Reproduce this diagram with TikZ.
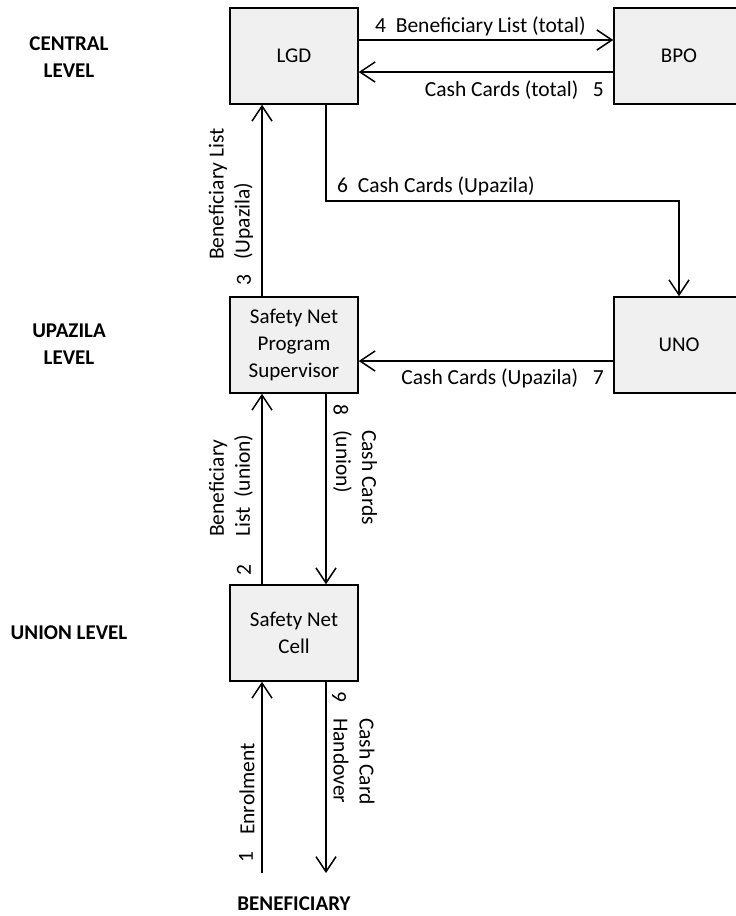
\documentclass[tikz,border=0pt]{standalone}
\usepackage{fontspec}
\setmainfont{Carlito}
\usetikzlibrary{arrows.meta,positioning}

\begin{document}
\begin{tikzpicture}[x=1pt, y=1pt,
    box/.style={draw, line width=1.5pt, fill=black!6, minimum width=128pt, minimum height=96pt, align=center, font=\fontsize{21}{27}\selectfont},
    level/.style={align=center, font=\fontsize{21}{27}\selectfont\bfseries},
    lbl/.style={inner sep=0pt, align=left, font=\fontsize{21.5}{26}\selectfont},
    flow/.style={-{Straight Barb[length=15pt, width=20pt]}, line width=1.5pt}
]
\clip (0,0) rectangle (736,-916);

% Central level
\node[box] (lgd) at (294, -56) {LGD};
\node[box, minimum width=130pt] (bpo) at (679, -56) {BPO};

% Upazila level
\node[box] (snps) at (294, -345) {Safety Net\\Program\\Supervisor};
\node[box, minimum width=130pt] (uno) at (679, -345) {UNO};

% Union level
\node[box] (cell) at (294, -633) {Safety Net\\Cell};

% Beneficiary
\node[level, inner sep=0pt] (benef) at (294, -904) {BENEFICIARY};
\coordinate (benin) at (262, -873);
\coordinate (benout) at (326, -873);

% Level labels
\node[level] (central) at (69, -57) {CENTRAL\\LEVEL};
\node[level] (upazila) at (69, -344) {UPAZILA\\LEVEL};
\node[level] (union) at (69, -633) {UNION LEVEL};

% Flows
\draw[flow] (benin) -- ([xshift=-32pt]cell.south);
\draw[flow] ([xshift=-32pt]cell.north) -- ([xshift=-32pt]snps.south);
\draw[flow] ([xshift=-32pt]snps.north) -- ([xshift=-32pt]lgd.south);
\draw[flow] ([yshift=16pt]lgd.east) -- ([yshift=16pt]bpo.west);
\draw[flow] ([yshift=-16pt]bpo.west) -- ([yshift=-16pt]lgd.east);
\draw[flow] ([xshift=32pt]lgd.south) -- ++(0,-96) -| (uno.north);
\draw[flow] ([yshift=-16pt]uno.west) -- ([yshift=-16pt]snps.east);
\draw[flow] ([xshift=32pt]snps.south) -- ([xshift=32pt]cell.north);
\draw[flow] ([xshift=32pt]cell.south) -- (benout);

% Flow labels
\node[lbl, rotate=90, anchor=west] (l1) at (247, -835) {Enrolment};
\node[lbl, rotate=90] (n1) at (246, -857) {1};
\node[lbl, rotate=90, anchor=west] (l2) at (231, -537) {Beneficiary\\List\ \ (union)};
\node[lbl, rotate=90] (n2) at (244, -570) {2};
\node[lbl, rotate=90, anchor=west] (l3) at (231, -260) {Beneficiary List\\(Upazila)};
\node[lbl, rotate=90] (n3) at (244, -280) {3};
\node[lbl, anchor=west] (l4) at (375, -26) {4\ \ Beneficiary List (total)};
\node[lbl, anchor=east] (l5) at (604, -90) {Cash Cards (total)\ \ \ 5};
\node[lbl, anchor=west] (l6) at (337, -186) {6\ \ Cash Cards (Upazila)};
\node[lbl, anchor=east] (l7) at (604, -378) {Cash Cards (Upazila)\ \ \ 7};
\node[lbl, rotate=-90, anchor=west] (l8) at (355, -430) {Cash Cards\\(union)};
\node[lbl, rotate=-90] (n8) at (341, -410) {8};
\node[lbl, rotate=-90, anchor=west] (l9) at (354, -718) {Cash Card\\Handover};
\node[lbl, rotate=-90] (n9) at (339, -697) {9};
\end{tikzpicture}
\end{document}
